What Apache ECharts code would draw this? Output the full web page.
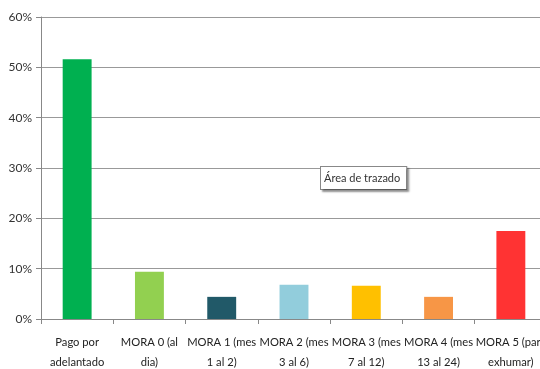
<!DOCTYPE html>
<html><head><meta charset="utf-8">
<script src="https://cdn.jsdelivr.net/npm/echarts@6/dist/echarts.min.js"></script>
<style>html,body{margin:0;padding:0;background:#fff}#c{width:540px;height:369px}</style>
</head><body><div id="c"></div>
<script>
const categories = ["Pago por\nadelantado","MORA 0 (al\ndia)","MORA 1 (mes\n1 al 2)","MORA 2 (mes\n3 al 6)","MORA 3 (mes\n7 al 12)","MORA 4 (mes\n13 al 24)","MORA 5 (para\nexhumar)"];
const values = [51.6, 9.4, 4.4, 6.8, 6.6, 4.4, 17.5];
const barColors = ["#00B050","#92D050","#215968","#92CDDC","#FFC000","#F79646","#FF3333"];
const yTicks = [0, 10, 20, 30, 40, 50, 60];
const plotNote = "Área de trazado";

const font = "Lato,'Liberation Sans',sans-serif";
const chart = echarts.init(document.getElementById('c'), null, {renderer:'canvas'});
chart.setOption({
  animation:false,
  grid:{left:41, top:17, height:302, width:506, containLabel:false, outerBoundsMode:'none'},
  xAxis:{type:'category', data:categories,
    axisLine:{lineStyle:{color:'#888', width:1}},
    axisTick:{show:true, length:5, lineStyle:{color:'#888'}},
    axisLabel:{interval:0, color:'#222', fontFamily:font, fontSize:11.2, lineHeight:20, margin:13}},
  yAxis:{type:'value', min:yTicks[0], max:yTicks[yTicks.length-1], interval:10,
    axisLine:{show:true, lineStyle:{color:'#888'}},
    axisTick:{show:true, length:5, lineStyle:{color:'#888'}},
    splitLine:{lineStyle:{color:'#999', width:1}},
    axisLabel:{formatter:'{value}%', color:'#333', fontFamily:font, fontSize:12, margin:9}},
  series:[{type:'bar', barWidth:'40%',
    data:values.map((v,i)=>({value:v, itemStyle:{color:barColors[i]}}))}],
  graphic:[{type:'text', left:320, top:166, z:100,
    style:{text:plotNote, fill:'#333', font:"11px "+font, backgroundColor:'#fff',
      borderColor:'#888', borderWidth:1, padding:[6,6,5,3],
      shadowColor:'rgba(0,0,0,0.35)', shadowOffsetX:2, shadowOffsetY:2, shadowBlur:2}}]
});
</script></body></html>
